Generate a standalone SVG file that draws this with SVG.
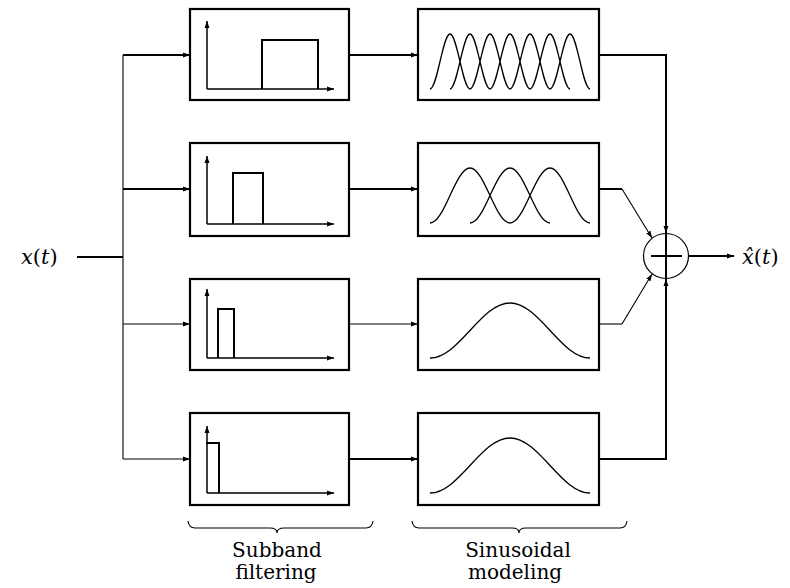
<svg xmlns="http://www.w3.org/2000/svg" width="790" height="588" viewBox="0 0 790 588">
<defs>
<marker id="arr" markerUnits="userSpaceOnUse" markerWidth="8" markerHeight="6" refX="7" refY="3" orient="auto"><path d="M0,0.5 L7,3 L0,5.5 z" fill="#000"/></marker>
<style>
.box{fill:#fff;stroke:#000;stroke-width:2.2}
.ax{fill:none;stroke:#000;stroke-width:1.5}
.bar{fill:none;stroke:#000;stroke-width:2}
.cv{fill:none;stroke:#000;stroke-width:1.3}
.thick{fill:none;stroke:#000;stroke-width:2}
.thin{fill:none;stroke:#000;stroke-width:1.1}
text{font-family:'DejaVu Serif','Liberation Serif',serif;fill:#000}
.lbl{font-size:20px}
.math{font-size:21px}
</style>
</defs>
<rect width="790" height="588" fill="#fff"/>

<g id="connectors">
<line class="thin" x1="123" y1="55" x2="123" y2="459"/>
<line class="thick" x1="77" y1="257" x2="123" y2="257"/>
<line class="thick" x1="123" y1="55" x2="190" y2="55" marker-end="url(#arr)"/>
<line class="thick" x1="123" y1="189" x2="190" y2="189" marker-end="url(#arr)"/>
<line class="thin" x1="123" y1="324" x2="190" y2="324" marker-end="url(#arr)"/>
<line class="thin" x1="123" y1="459" x2="190" y2="459" marker-end="url(#arr)"/>
<line class="thick" x1="349" y1="55" x2="418" y2="55" marker-end="url(#arr)"/>
<line class="thick" x1="349" y1="189" x2="418" y2="189" marker-end="url(#arr)"/>
<line class="thin" x1="349" y1="324" x2="418" y2="324" marker-end="url(#arr)"/>
<line class="thick" x1="349" y1="459" x2="418" y2="459" marker-end="url(#arr)"/>
<polyline class="thick" points="599,55 666,55 666,233" marker-end="url(#arr)"/>
<polyline class="thick" points="599,459 666,459 666,279" marker-end="url(#arr)"/>
<line class="thick" x1="599" y1="189" x2="622" y2="189"/>
<line class="thin" x1="622" y1="189" x2="652" y2="238" marker-end="url(#arr)"/>
<line class="thin" x1="599" y1="324" x2="622" y2="324"/>
<line class="thin" x1="622" y1="324" x2="652" y2="274" marker-end="url(#arr)"/>
<line class="thick" x1="689" y1="256" x2="734" y2="256" marker-end="url(#arr)"/>
</g>

<g id="input">
<text class="math" x="21" y="264"><tspan font-style="italic">x</tspan>(<tspan font-style="italic">t</tspan>)</text>
</g>

<g id="filter1">
<rect class="box" x="190" y="9" width="159" height="91"/>
<line class="ax" x1="207" y1="89" x2="207" y2="21" marker-end="url(#arr)"/>
<line class="ax" x1="207" y1="89" x2="334" y2="89" marker-end="url(#arr)"/>
<polyline class="bar" points="262,89 262,40 318,40 318,89"/>
</g>
<g id="filter2">
<rect class="box" x="190" y="143" width="159" height="93"/>
<line class="ax" x1="207" y1="224" x2="207" y2="156" marker-end="url(#arr)"/>
<line class="ax" x1="207" y1="224" x2="334" y2="224" marker-end="url(#arr)"/>
<polyline class="bar" points="233,224 233,173 263,173 263,224"/>
</g>
<g id="filter3">
<rect class="box" x="190" y="279" width="159" height="91"/>
<line class="ax" x1="207" y1="358" x2="207" y2="289" marker-end="url(#arr)"/>
<line class="ax" x1="207" y1="358" x2="334" y2="358" marker-end="url(#arr)"/>
<polyline class="bar" points="218,358 218,309 234,309 234,358"/>
</g>
<g id="filter4">
<rect class="box" x="190" y="413" width="159" height="92"/>
<line class="ax" x1="207" y1="493" x2="207" y2="426" marker-end="url(#arr)"/>
<line class="ax" x1="207" y1="493" x2="334" y2="493" marker-end="url(#arr)"/>
<polyline class="bar" points="206,443 219,443 219,493"/>
</g>

<g id="sinusoid1">
<rect class="box" x="418" y="9" width="181" height="91"/>
<path class="cv" d="M430,89 C437.3,89 442.7,34 450,34 S462.7,89 470,89 M450,89 C457.3,89 462.7,34 470,34 S482.7,89 490,89 M470,89 C477.3,89 482.7,34 490,34 S502.7,89 510,89 M490,89 C497.3,89 502.7,34 510,34 S522.7,89 530,89 M510,89 C517.3,89 522.7,34 530,34 S542.7,89 550,89 M530,89 C537.3,89 542.7,34 550,34 S562.7,89 570,89 M550,89 C557.3,89 562.7,34 570,34 S582.7,89 590,89"/>
</g>
<g id="sinusoid2">
<rect class="box" x="418" y="143" width="181" height="93"/>
<path class="cv" d="M430,223 C444.6,223 455.4,168 470,168 S495.4,223 510,223 M470,223 C484.6,223 495.4,168 510,168 S535.4,223 550,223 M510,223 C524.6,223 535.4,168 550,168 S575.4,223 590,223"/>
</g>
<g id="sinusoid3">
<rect class="box" x="418" y="279" width="181" height="91"/>
<path class="cv" d="M430,358 C459.1,358 480.9,303 510,303 S560.9,358 590,358"/>
</g>
<g id="sinusoid4">
<rect class="box" x="418" y="413" width="181" height="92"/>
<path class="cv" d="M430,493 C459.1,493 480.9,438 510,438 S560.9,493 590,493"/>
</g>

<g id="sum">
<circle cx="666" cy="256" r="22.5" fill="#fff" stroke="#000" stroke-width="1.2"/>
<line class="thick" x1="651" y1="256" x2="682" y2="256"/>
<line class="thick" x1="666" y1="234" x2="666" y2="278"/>
</g>

<g id="output">
<text class="math" x="742" y="264"><tspan font-style="italic">x̂</tspan>(<tspan font-style="italic">t</tspan>)</text>
</g>

<g id="label-subband">
<path class="thin" d="M188,521 Q189,528 195,528 L270,528 Q277,528 277,533 Q277,528 284,528 L366,528 Q372,528 373,521"/>
<text class="lbl" x="277" y="557" text-anchor="middle">Subband</text>
<text class="lbl" x="276" y="579" text-anchor="middle">filtering</text>
</g>
<g id="label-sinusoidal">
<path class="thin" d="M412,521 Q413,528 419,528 L512,528 Q519,528 519,533 Q519,528 526,528 L620,528 Q626,528 627,521"/>
<text class="lbl" x="518" y="557" text-anchor="middle">Sinusoidal</text>
<text class="lbl" x="515" y="579" text-anchor="middle">modeling</text>
</g>
</svg>
